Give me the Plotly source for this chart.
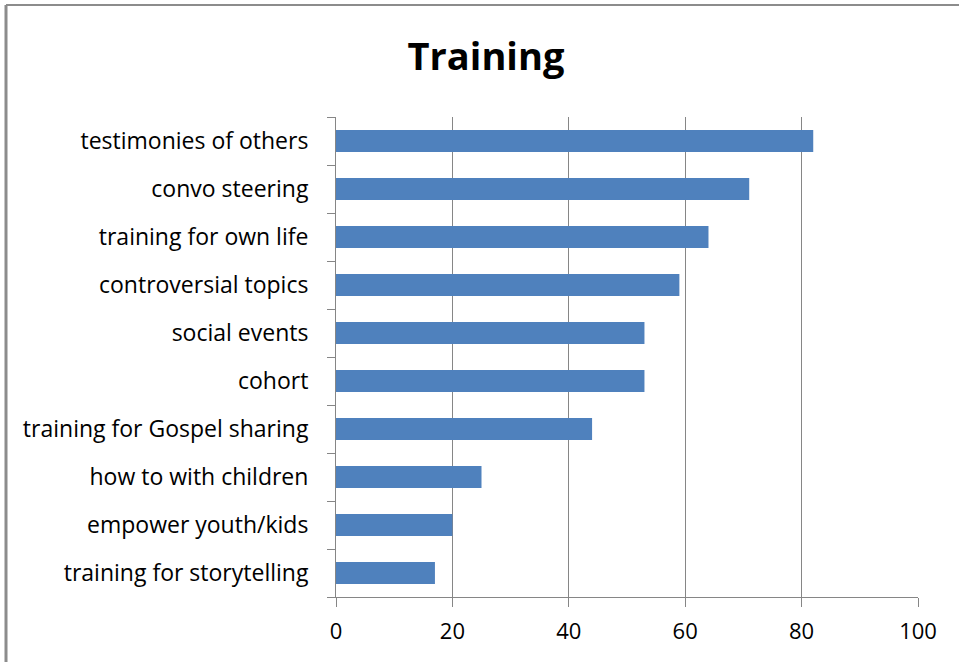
import plotly.graph_objects as go

# Data (top to bottom as shown)
categories = [
    "testimonies of others",
    "convo steering",
    "training for own life",
    "controversial topics",
    "social events",
    "cohort",
    "training for Gospel sharing",
    "how to with children",
    "empower youth/kids",
    "training for storytelling",
]
values = [82, 71, 64, 59, 53, 53, 44, 25, 20, 17]
x_ticks = [0, 20, 40, 60, 80, 100]

BAR = "#4F81BD"
GRID = "#868686"
FONT = "Open Sans"

fig = go.Figure(go.Bar(
    y=categories[::-1],
    x=values[::-1],
    orientation="h",
    marker=dict(color=BAR, line=dict(width=0)),
))

fig.update_layout(
    width=959, height=662,
    paper_bgcolor="white",
    plot_bgcolor="white",
    margin=dict(l=336, r=41, t=117, b=65),
    bargap=0.54,
    showlegend=False,
    font=dict(family=FONT, color="black", size=23),
    title=dict(
        text="<b>Training</b>",
        x=486 / 959, xanchor="center", xref="container",
        y=1 - 57 / 662, yanchor="middle", yref="container",
        font=dict(family=FONT, size=38, color="black"),
    ),
    xaxis=dict(
        range=[0, 100],
        tickvals=x_ticks,
        showgrid=True, gridcolor=GRID, gridwidth=1,
        showline=True, linecolor=GRID, linewidth=1,
        ticks="outside", ticklen=9, tickcolor=GRID,
        tickfont=dict(size=22, color="black"),
        ticklabelstandoff=6,
        zeroline=False,
        fixedrange=True,
    ),
    yaxis=dict(
        type="category",
        showgrid=False,
        showline=True, linecolor=GRID, linewidth=1,
        ticks="outside", ticklen=8, tickcolor=GRID,
        tickson="boundaries",
        tickfont=dict(size=23, color="black"),
        ticklabelstandoff=22,
        fixedrange=True,
    ),
    shapes=[
        # outer chart frame (left and top edges visible)
        dict(type="line", xref="paper", yref="paper",
             x0=(6 - 336) / 582, x1=(6 - 336) / 582,
             y0=(597 - 5) / 480, y1=(597 - 700) / 480,
             line=dict(color="#8c8c8c", width=3)),
        dict(type="line", xref="paper", yref="paper",
             x0=(6 - 336) / 582, x1=(1000 - 336) / 582,
             y0=(597 - 5) / 480, y1=(597 - 5) / 480,
             line=dict(color="#8c8c8c", width=2)),
    ],
)

# drop the default 8px body margin so the figure sits at the page origin
fig.write_html(
    "out.html",
    config={"displayModeBar": False},
    post_script="document.body.style.margin = '0';",
)
